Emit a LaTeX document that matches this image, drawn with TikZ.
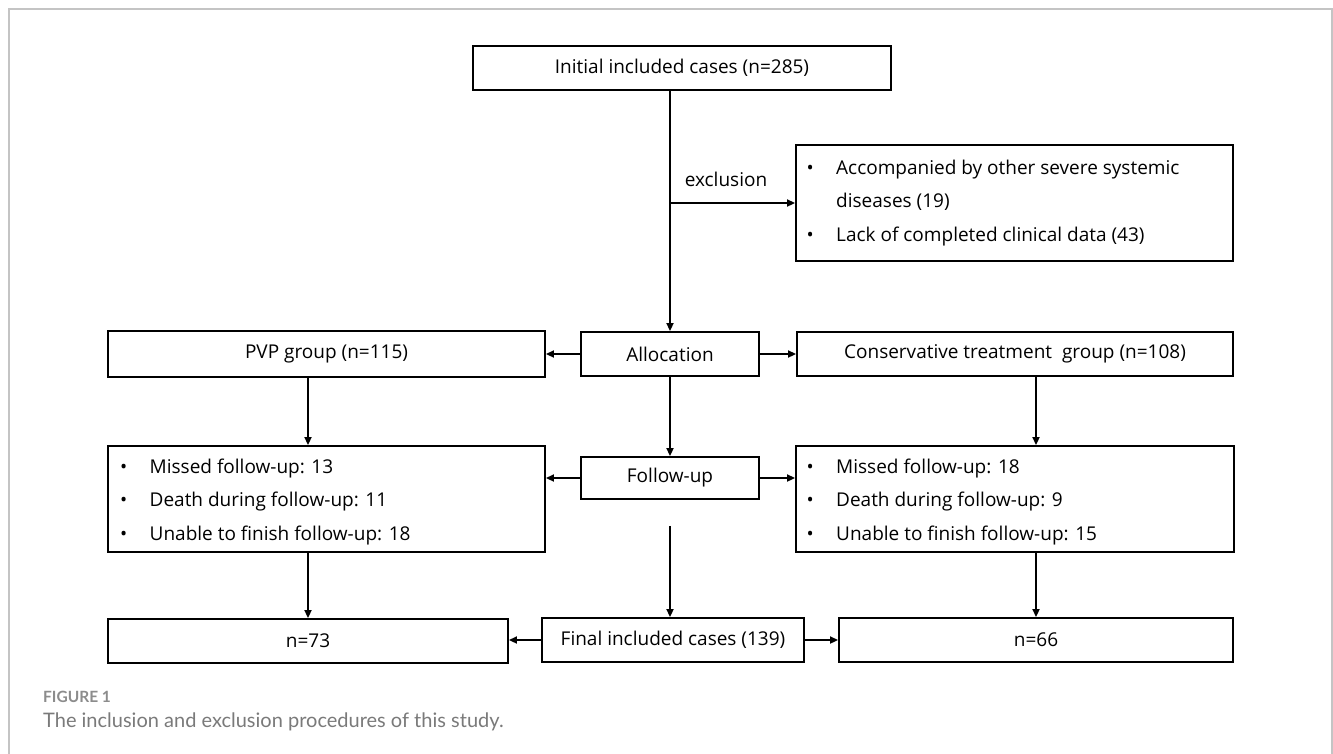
\documentclass[tikz,border=0pt]{standalone}
\usepackage{fontspec}
\setmainfont{Open Sans}
\newfontfamily\capfont{Lato}
\usetikzlibrary{arrows.meta,calc}
\definecolor{framegray}{HTML}{C4C4C4}
\definecolor{capgray}{HTML}{7A7A7A}
\definecolor{figgray}{HTML}{8C8C8C}
\newcommand\bl{\makebox[30pt][l]{\hspace{0.5pt}\textbullet}}
\newcommand\blpad{\makebox[30pt][l]{}}
\begin{document}
\begin{tikzpicture}[x=1pt,y=-1pt,
  box/.style={draw=black,line width=1.9pt,inner sep=0pt,font=\fontsize{19}{33.5}\selectfont},
  arr/.style={line width=1.9pt,-{Triangle[length=8pt,width=7pt]}},
  blist/.style={inner sep=0pt,anchor=west,align=left,font=\fontsize{19}{33.5}\selectfont},
  lbl/.style={inner sep=0pt,font=\fontsize{19}{23}\selectfont}
]
\useasboundingbox (0,0) rectangle (1333,753);
\fill[white] (0,0) rectangle (1333,753);
\draw[framegray,line width=1.3pt] (9,760) -- (9,9) -- (1332,9) -- (1332,760);

% boxes
\node[box,minimum width=418pt,minimum height=44pt] (init) at (682,68) {Initial included cases (n=285)};
\node[box,minimum width=437pt,minimum height=116pt] (excl) at (1014.5,203) {};
\node[box,minimum width=437pt,minimum height=46pt] (pvp) at (326.5,354) {PVP group (n=115)};
\node[box,minimum width=178pt,minimum height=44pt] (alloc) at (670,354) {Allocation};
\node[box,minimum width=436pt,minimum height=44pt] (cons) at (1015,354) {Conservative treatment\ \ group (n=108)};
\node[box,minimum width=437pt,minimum height=106pt] (lfu) at (326.5,499) {};
\node[box,minimum width=178pt,minimum height=42pt] (fu) at (670,478) {Follow-up};
\node[box,minimum width=438pt,minimum height=106pt] (rfu) at (1015,499) {};
\node[box,minimum width=400pt,minimum height=44pt] (n73) at (308,641) {n=73};
\node[box,minimum width=262pt,minimum height=44pt] (fin) at (673,640) {Final included cases (139)};
\node[box,minimum width=394pt,minimum height=44pt] (n66) at (1036,640) {n=66};

% bullet lists
\node[blist] (exlist) at (806,203) {\bl Accompanied by other severe systemic\\ \blpad diseases (19)\\ \bl Lack of completed clinical data (43)};
\node[blist] (llist) at (119.5,502) {\bl Missed follow-up: 13\\ \bl Death during follow-up: 11\\ \bl Unable to finish follow-up: 18};
\node[blist] (rlist) at (806,502) {\bl Missed follow-up: 18\\ \bl Death during follow-up: 9\\ \bl Unable to finish follow-up: 15};

% connectors
\draw[arr] (init.south -| alloc.north) -- (alloc.north);
\coordinate (exsplit) at (alloc.north |- excl.west);
\draw[arr] (exsplit) -- (excl.west);
\node[lbl,anchor=base] (exlbl) at (726,186) {exclusion};

\draw[arr] (alloc.west) -- (alloc.west -| pvp.east);
\draw[arr] (alloc.east) -- (alloc.east -| cons.west);
\draw[arr] (alloc.south) -- (fu.north);
\draw[arr] (fu.west) -- (fu.west -| lfu.east);
\draw[arr] (fu.east) -- (fu.east -| rfu.west);
\coordinate (fugap) at ($(fu.south)+(0,26)$);
\draw[arr] (fugap) -- (fugap |- fin.north);

\draw[arr] (pvp.south -| n73.north) -- (lfu.north -| n73.north);
\draw[arr] (lfu.south -| n73.north) -- (n73.north);
\draw[arr] (cons.south -| n66.north) -- (rfu.north -| n66.north);
\draw[arr] (rfu.south -| n66.north) -- (n66.north);

\draw[arr] (fin.west) -- (fin.west -| n73.east);
\draw[arr] (fin.east) -- (fin.east -| n66.west);

% caption
\node[inner sep=0pt,anchor=base west,text=figgray,font=\capfont\bfseries\fontsize{15.5}{18}\selectfont] (figlbl) at (43,702) {FIGURE 1};
\node[inner sep=0pt,anchor=base west,text=capgray,font=\capfont\fontsize{20}{24}\selectfont] (caption) at (43,727) {The inclusion and exclusion procedures of this study.};
\end{tikzpicture}
\end{document}
